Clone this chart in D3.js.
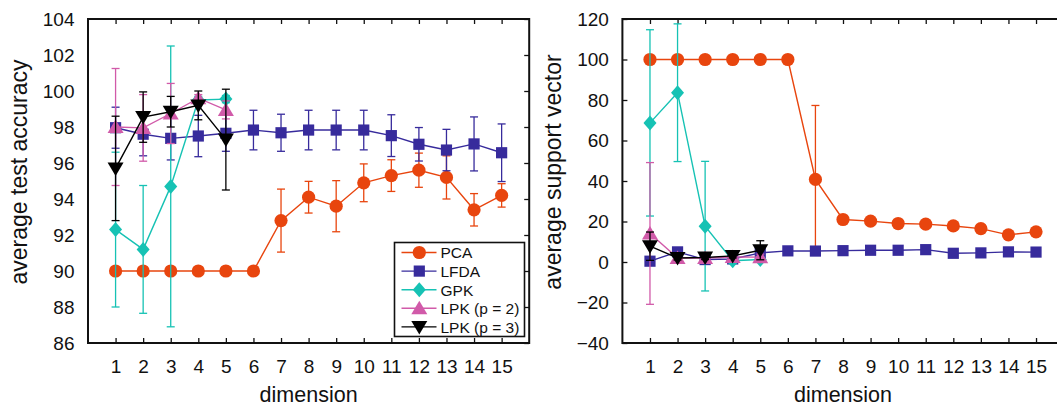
<!DOCTYPE html>
<html lang="en">

<head>
    <meta charset="UTF-8">
    <title>dimension plots</title>
    <script src="https://d3js.org/d3.v7.min.js"></script>
    <style>
        body { margin: 0; background: #fff; }
        text { font-family: "Liberation Sans", Arial, sans-serif; fill: #111; }
    </style>
</head>

<body>
    <div id="chart"></div>
    <script>
        var dims = [1, 2, 3, 4, 5, 6, 7, 8, 9, 10, 11, 12, 13, 14, 15];
        var dims5 = [1, 2, 3, 4, 5];
        var seriesNames = ["PCA", "LFDA", "GPK", "LPK (p = 2)", "LPK (p = 3)"];

        // left panel: average test accuracy
        var accTicks = [86, 88, 90, 92, 94, 96, 98, 100, 102, 104];
        var accPCA = [90, 90, 90, 90, 90, 90, 92.8, 94.1, 93.6, 94.9, 95.3, 95.6, 95.2, 93.4, 94.2];
        var accPCAErr = [0, 0, 0, 0, 0, 0, 1.75, 0.88, 1.42, 1.05, 0.88, 0.95, 1.2, 0.9, 0.65];
        var accLFDA = [97.96, 97.6, 97.37, 97.5, 97.65, 97.83, 97.68, 97.83, 97.83, 97.83, 97.52, 97.04, 96.72, 97.06, 96.57];
        var accLFDAErr = [1.14, 1.2, 1.2, 1.15, 1.0, 1.1, 1.03, 1.1, 1.1, 1.1, 1.16, 0.93, 1.15, 1.5, 1.6];
        var accGPK = [92.3, 91.2, 94.7, 99.5, 99.55];
        var accGPKErr = [4.3, 3.55, 7.8, 0.2, 0.2];
        var accLPK2 = [98.0, 97.95, 98.75, 99.6, 98.95];
        var accLPK2Err = [3.25, 1.85, 1.67, 0.2, 0.5];
        var accLPK3 = [95.7, 98.55, 98.85, 99.2, 97.3];
        var accLPK3Err = [2.9, 1.4, 0.85, 0.8, 2.8];

        // right panel: average support vector
        var svTicks = [-40, -20, 0, 20, 40, 60, 80, 100, 120];
        var svPCA = [100, 100, 100, 100, 100, 100, 40.8, 21.0, 20.2, 19.0, 18.7, 17.8, 16.5, 13.4, 14.9];
        var svPCAErr = [0, 0, 0, 0, 0, 0, 36.5, 0, 0, 0, 0, 0, 0, 0, 0];
        var svLFDA = [0.4, 5.0, 1.2, 1.5, 4.5, 5.5, 5.4, 5.6, 5.8, 5.8, 6.1, 4.3, 4.5, 5.0, 4.9];
        var svLFDAErr = [0, 0, 0, 0, 0, 0, 0, 0, 0, 0, 0, 0, 0, 0, 0];
        var svGPK = [68.7, 83.6, 17.7, 0.6, 1.2];
        var svGPKErr = [46, 34, 32, 1, 1];
        var svLPK2 = [14.1, 2.0, 2.0, 2.5, 2.4];
        var svLPK2Err = [35, 1, 1, 2.5, 1.5];
        var svLPK3 = [7.8, 2.0, 2.2, 3.0, 5.8];
        var svLPK3Err = [7, 1, 1, 1, 4.7];

        var colors = ["#e8450e", "#372b9c", "#16c2b4", "#d15aa9", "#000000"];
        var shapes = ["circle", "square", "diamond", "up", "down"];

        var w = 1057,
            h = 408;

        var svg = d3.select("#chart").append("svg")
            .attr("width", w)
            .attr("height", h);

        function markerPath(shape) {
            var p = d3.path();
            if (shape == "circle") {
                p.arc(0, 0, 6.6, 0, 2 * Math.PI);
            } else if (shape == "square") {
                p.rect(-5.6, -5.6, 11.2, 11.2);
            } else if (shape == "diamond") {
                p.moveTo(0, -7.5); p.lineTo(6.5, 0); p.lineTo(0, 7.5); p.lineTo(-6.5, 0); p.closePath();
            } else if (shape == "up") {
                p.moveTo(0, -7.5); p.lineTo(8, 6); p.lineTo(-8, 6); p.closePath();
            } else {
                p.moveTo(0, 7.5); p.lineTo(8, -6); p.lineTo(-8, -6); p.closePath();
            }
            return p.toString();
        }

        function panel(opt) {
            var g = svg.append("g");
            var x = d3.scaleLinear().domain([0, 16]).range([opt.left, opt.left + 441.2]);
            var y = d3.scaleLinear().domain(opt.yDomain).range([343, 19]);

            // axes, ticks pointing inward
            g.append("g").attr("transform", "translate(0,343)")
                .call(d3.axisBottom(x).tickValues(dims).tickSize(-5).tickPadding(16.5));
            g.append("g").attr("transform", "translate(0,19)")
                .call(d3.axisTop(x).tickValues(dims).tickSize(-5).tickFormat(""));
            g.append("g").attr("transform", "translate(" + opt.left + ",0)")
                .call(d3.axisLeft(y).tickValues(opt.yTicks).tickSize(opt.leftTicks ? -5 : 0).tickPadding(13.5));
            g.append("g").attr("transform", "translate(" + (opt.left + 441.2) + ",0)")
                .call(d3.axisRight(y).tickValues(opt.yTicks).tickSize(-5).tickFormat(""));

            g.selectAll(".domain").remove();
            g.selectAll(".tick line").attr("stroke", "#111").attr("stroke-width", 1.3);
            g.selectAll(".tick text").style("font-size", "19px").attr("fill", "#111");

            g.append("rect")
                .attr("x", opt.left).attr("y", 19)
                .attr("width", 441.2).attr("height", 324)
                .attr("fill", "none").attr("stroke", "#111").attr("stroke-width", 2);

            g.append("text")
                .attr("x", opt.left + 220.6).attr("y", 402)
                .attr("text-anchor", "middle")
                .style("font-size", "21.5px")
                .text("dimension");
            g.append("text")
                .attr("transform", "translate(" + (opt.left - 61) + ",172) rotate(-90)")
                .attr("text-anchor", "middle")
                .style("font-size", "23px")
                .text(opt.yLabel);

            var plot = g.append("g");
            opt.series.forEach(function(s, k) {
                var pts = s.xs.map(function(d, i) {
                    return { x: d, v: s.vals[i], e: s.errs[i] };
                });
                var sg = plot.append("g");
                var bars = pts.filter(function(d) { return d.e > 0; });
                sg.selectAll("line.err").data(bars).enter().append("line")
                    .attr("x1", function(d) { return x(d.x); })
                    .attr("x2", function(d) { return x(d.x); })
                    .attr("y1", function(d) { return y(d.v - d.e); })
                    .attr("y2", function(d) { return y(d.v + d.e); })
                    .attr("stroke", colors[k]).attr("stroke-width", 1.3);
                ["lo", "hi"].forEach(function(side) {
                    sg.selectAll("line.cap" + side).data(bars).enter().append("line")
                        .attr("x1", function(d) { return x(d.x) - 4; })
                        .attr("x2", function(d) { return x(d.x) + 4; })
                        .attr("y1", function(d) { return y(side == "lo" ? d.v - d.e : d.v + d.e); })
                        .attr("y2", function(d) { return y(side == "lo" ? d.v - d.e : d.v + d.e); })
                        .attr("stroke", colors[k]).attr("stroke-width", 1.3);
                });
                sg.append("path").datum(pts)
                    .attr("d", d3.line().x(function(d) { return x(d.x); }).y(function(d) { return y(d.v); }))
                    .attr("fill", "none").attr("stroke", colors[k]).attr("stroke-width", 1.4);
                sg.selectAll("path.mk").data(pts).enter().append("path")
                    .attr("transform", function(d) { return "translate(" + x(d.x) + "," + y(d.v) + ")"; })
                    .attr("d", markerPath(shapes[k]))
                    .attr("fill", colors[k]);
            });

            if (opt.legend) {
                var lg = g.append("g").attr("transform", "translate(394.5,242.5)");
                lg.append("rect").attr("width", 130).attr("height", 94)
                    .attr("fill", "#fff").attr("stroke", "#111").attr("stroke-width", 1.6);
                seriesNames.forEach(function(name, k) {
                    var yy = 10 + k * 18.6;
                    lg.append("line").attr("x1", 7).attr("x2", 42).attr("y1", yy).attr("y2", yy)
                        .attr("stroke", colors[k]).attr("stroke-width", 1.4);
                    lg.append("path").attr("transform", "translate(24.8," + yy + ")")
                        .attr("d", markerPath(shapes[k])).attr("fill", colors[k]);
                    lg.append("text").attr("x", 46).attr("y", yy + 5.8)
                        .style("font-size", "15.5px").text(name);
                });
            }
        }

        panel({
            left: 88,
            yDomain: [86, 104],
            yTicks: accTicks,
            leftTicks: false,
            yLabel: "average test accuracy",
            legend: true,
            series: [
                { xs: dims, vals: accPCA, errs: accPCAErr },
                { xs: dims, vals: accLFDA, errs: accLFDAErr },
                { xs: dims5, vals: accGPK, errs: accGPKErr },
                { xs: dims5, vals: accLPK2, errs: accLPK2Err },
                { xs: dims5, vals: accLPK3, errs: accLPK3Err }
            ]
        });

        panel({
            left: 622.4,
            yDomain: [-40, 120],
            yTicks: svTicks,
            leftTicks: true,
            yLabel: "average support vector",
            legend: false,
            series: [
                { xs: dims, vals: svPCA, errs: svPCAErr },
                { xs: dims, vals: svLFDA, errs: svLFDAErr },
                { xs: dims5, vals: svGPK, errs: svGPKErr },
                { xs: dims5, vals: svLPK2, errs: svLPK2Err },
                { xs: dims5, vals: svLPK3, errs: svLPK3Err }
            ]
        });
    </script>
</body>

</html>
